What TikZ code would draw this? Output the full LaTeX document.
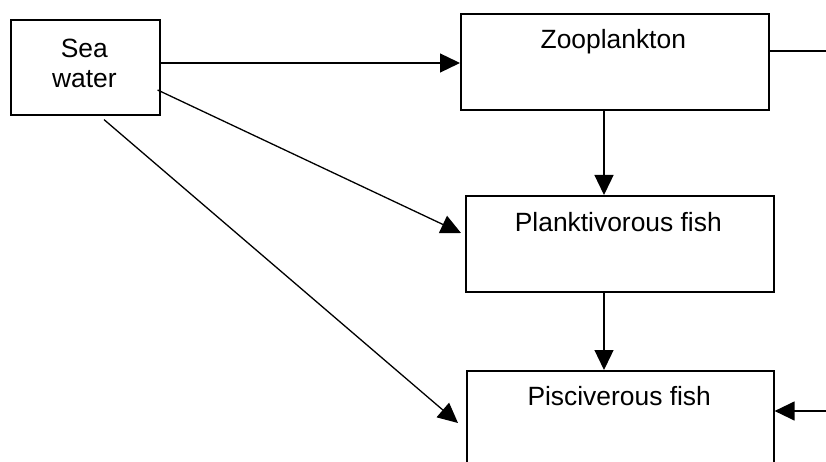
\documentclass[tikz,border=0pt]{standalone}
\usepackage{fontspec}
\setmainfont{Liberation Sans}
\usetikzlibrary{arrows.meta,calc}

\tikzset{
  box/.style={draw, line width=1.6pt, rectangle, inner sep=0pt, anchor=north west},
  lbl/.style={anchor=base, inner sep=0pt, font=\fontsize{26.4}{30}\selectfont},
  flow/.style={line width=1.3pt, -{Triangle[length=20pt,width=19pt]}},
  wire/.style={line width=1.3pt}
}

\begin{document}
\begin{tikzpicture}[x=1pt,y=-1pt]
  \useasboundingbox (0,0) rectangle (826,462);
  \clip (0,0) rectangle (826,462);

  % boxes
  \node[box, minimum width=149pt, minimum height=95pt] (sea)   at (10,19)  {};
  \node[box, minimum width=308pt, minimum height=96pt] (zoo)   at (460,13) {};
  \node[box, minimum width=308pt, minimum height=96pt] (plank) at (465,195) {};
  \node[box, minimum width=307pt, minimum height=110pt] (pisc) at (466,370) {};

  % labels
  \node[lbl] (seaA)   at (84.3,58)   {Sea};
  \node[lbl] (seaB)   at (84.3,88)   {water};
  \node[lbl] (zooT)   at (613.3,49)  {Zooplankton};
  \node[lbl] (plankT) at (618.3,231.5) {Planktivorous fish};
  \node[lbl] (piscT)  at (619.2,405.5) {Pisciverous fish};

  % edge points
  \coordinate (zooOut)  at (826,51);
  \coordinate (piscIn)  at (826,411);
  \coordinate (seaP)    at ($(sea.north east)+(-3,71)$);
  \coordinate (seaQ)    at ($(sea.south west)+(94,4)$);
  \coordinate (plankIn) at ($(plank.north west)+(-4,38)$);
  \coordinate (piscL)   at ($(pisc.north west)+(-8,53)$);

  % connectors
  \draw[flow] (sea.east |- 0,63) -- (zoo.west |- 0,63);
  \draw[wire] (zoo.east |- zooOut) -- (zooOut);
  \draw[flow] (zoo.south -| 604,0) -- (plank.north -| 604,0);
  \draw[flow] (plank.south -| 604,0) -- (pisc.north -| 604,0);
  \draw[flow] (seaP) -- (plankIn);
  \draw[flow] (seaQ) -- (piscL);
  \draw[flow] (piscIn) -- (pisc.east |- piscIn);
\end{tikzpicture}
\end{document}
